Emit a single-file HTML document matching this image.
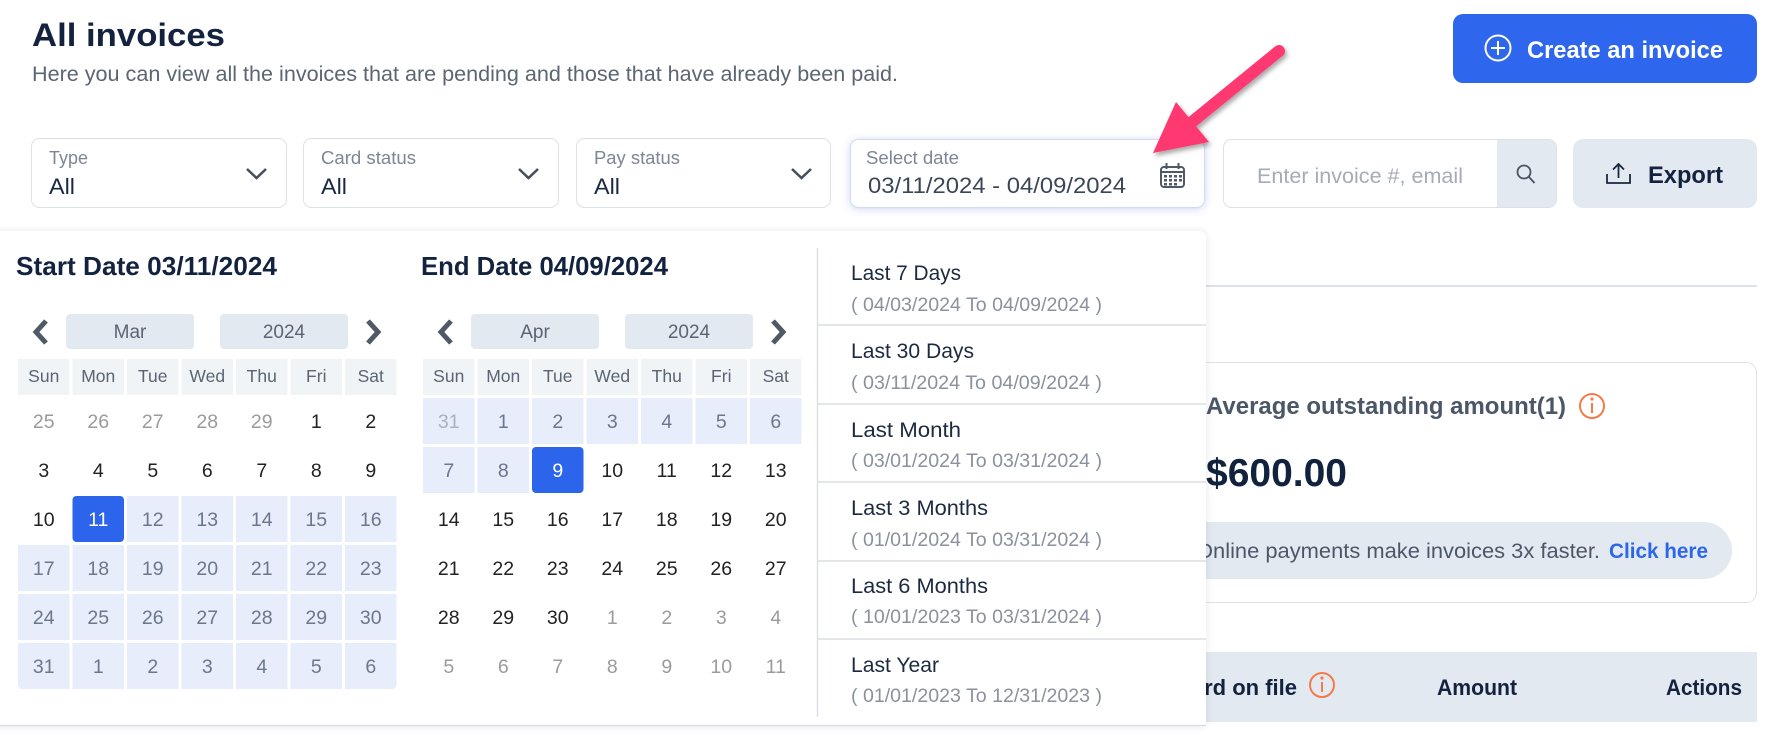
<!DOCTYPE html>
<html><head><meta charset="utf-8"><style>
html,body{margin:0;padding:0;background:#fff;width:1788px;height:744px;overflow:hidden}
svg{display:block}
text{font-family:"Liberation Sans",Arial,sans-serif}
</style></head><body>
<svg width="1788" height="744" viewBox="0 0 1788 744" xmlns="http://www.w3.org/2000/svg">
<defs>
<filter id="pop" x="-5%" y="-10%" width="110%" height="120%"><feDropShadow dx="0" dy="0" stdDeviation="4" flood-color="#000" flood-opacity="0.10"/></filter>
<filter id="glow" x="-10%" y="-30%" width="120%" height="160%"><feDropShadow dx="0" dy="1" stdDeviation="4" flood-color="#4a63e0" flood-opacity="0.28"/></filter>
<filter id="arr" x="-20%" y="-20%" width="140%" height="140%"><feDropShadow dx="2" dy="3" stdDeviation="2.5" flood-color="#000" flood-opacity="0.35"/></filter>
</defs>
<rect x="0" y="0" width="1788" height="744" fill="#fff"/>

<!-- Header -->
<text x="32" y="46" font-size="32" font-weight="bold" fill="#13233f" textLength="193" lengthAdjust="spacingAndGlyphs">All invoices</text>
<text x="32" y="81" font-size="21.5" fill="#5b6573" textLength="866" lengthAdjust="spacingAndGlyphs">Here you can view all the invoices that are pending and those that have already been paid.</text>

<!-- Create button -->
<rect x="1453" y="14" width="304" height="69" rx="10" fill="#2e67ee"/>
<circle cx="1498" cy="48" r="12.5" fill="none" stroke="#fff" stroke-width="2"/>
<line x1="1491" y1="48" x2="1505" y2="48" stroke="#fff" stroke-width="2"/>
<line x1="1498" y1="41" x2="1498" y2="55" stroke="#fff" stroke-width="2"/>
<text x="1527" y="58" font-size="24" font-weight="bold" fill="#fff" textLength="196" lengthAdjust="spacingAndGlyphs">Create an invoice</text>

<!-- Filters -->
<rect x="31.5" y="138.5" width="255" height="69" rx="8" fill="#fff" stroke="#dde1e6"/>
<text x="49" y="164" font-size="18" fill="#7d8696">Type</text>
<text x="49" y="194" font-size="22" fill="#1a2940" textLength="26" lengthAdjust="spacingAndGlyphs">All</text>
<polyline points="247,169 256.5,178 266,169" fill="none" stroke="#454e5c" stroke-width="2.5"/>

<rect x="303.5" y="138.5" width="255" height="69" rx="8" fill="#fff" stroke="#dde1e6"/>
<text x="321" y="164" font-size="18" fill="#7d8696" textLength="95" lengthAdjust="spacingAndGlyphs">Card status</text>
<text x="321" y="194" font-size="22" fill="#1a2940" textLength="26" lengthAdjust="spacingAndGlyphs">All</text>
<polyline points="519,169 528.5,178 538,169" fill="none" stroke="#454e5c" stroke-width="2.5"/>

<rect x="576.5" y="138.5" width="254" height="69" rx="8" fill="#fff" stroke="#dde1e6"/>
<text x="594" y="164" font-size="18" fill="#7d8696" textLength="86" lengthAdjust="spacingAndGlyphs">Pay status</text>
<text x="594" y="194" font-size="22" fill="#1a2940" textLength="26" lengthAdjust="spacingAndGlyphs">All</text>
<polyline points="792,169 801.5,178 811,169" fill="none" stroke="#454e5c" stroke-width="2.5"/>

<!-- Date box -->
<rect x="850.5" y="139.5" width="354" height="68" rx="8" fill="#fff" stroke="#d3daf3" filter="url(#glow)"/>
<text x="866" y="164" font-size="18" fill="#7d8696" textLength="93" lengthAdjust="spacingAndGlyphs">Select date</text>
<text x="868" y="193" font-size="22.5" fill="#3c4656" textLength="258" lengthAdjust="spacingAndGlyphs">03/11/2024 - 04/09/2024</text>
<g fill="none" stroke="#4f5a66" stroke-width="2">
<rect x="1161" y="167" width="23" height="20" rx="3"/>
<line x1="1161" y1="172" x2="1184" y2="172"/>
<line x1="1166.5" y1="163" x2="1166.5" y2="169"/>
<line x1="1178.5" y1="163" x2="1178.5" y2="169"/>
</g>
<g fill="#4f5a66">
<rect x="1164" y="175" width="3" height="2.5"/><rect x="1169" y="175" width="3" height="2.5"/><rect x="1174" y="175" width="3" height="2.5"/><rect x="1179" y="175" width="3" height="2.5"/>
<rect x="1164" y="179" width="3" height="2.5"/><rect x="1169" y="179" width="3" height="2.5"/><rect x="1174" y="179" width="3" height="2.5"/><rect x="1179" y="179" width="3" height="2.5"/>
<rect x="1164" y="183" width="3" height="2.5"/><rect x="1169" y="183" width="3" height="2.5"/><rect x="1174" y="183" width="3" height="2.5"/>
</g>

<!-- Search -->
<rect x="1223.5" y="139.5" width="333" height="68" rx="8" fill="#fff" stroke="#dde1e6"/>
<path d="M1497 140 H1549 Q1556 140 1556 147 V200 Q1556 207 1549 207 H1497 Z" fill="#e3e9f0"/>
<text x="1257" y="183" font-size="21.5" fill="#a5acb5" textLength="206" lengthAdjust="spacingAndGlyphs">Enter invoice #, email</text>
<circle cx="1524" cy="172" r="6.5" fill="none" stroke="#4a5360" stroke-width="1.8"/>
<line x1="1529" y1="177" x2="1534.5" y2="183" stroke="#4a5360" stroke-width="1.8"/>

<!-- Export -->
<rect x="1573" y="139" width="184" height="69" rx="10" fill="#e3e9f0"/>
<g fill="none" stroke="#1a2940" stroke-width="1.8">
<line x1="1618.5" y1="164" x2="1618.5" y2="178"/>
<polyline points="1613,169.5 1618.5,164 1624,169.5"/>
<polyline points="1607,174 1607,183 1630,183 1630,174"/>
</g>
<text x="1648" y="183" font-size="24" font-weight="bold" fill="#13233f" textLength="75" lengthAdjust="spacingAndGlyphs">Export</text>

<!-- Background content (right side) -->
<line x1="900" y1="286" x2="1757" y2="286" stroke="#dde2e8" stroke-width="2"/>
<rect x="1100.5" y="362.5" width="656" height="240" rx="10" fill="#fff" stroke="#dfe3e8"/>
<text x="1206" y="414" font-size="24" font-weight="bold" fill="#4b5766" textLength="360" lengthAdjust="spacingAndGlyphs">Average outstanding amount(1)</text>
<circle cx="1592" cy="406" r="12" fill="none" stroke="#f47a4a" stroke-width="2"/>
<line x1="1592" y1="403" x2="1592" y2="413" stroke="#f47a4a" stroke-width="2"/>
<circle cx="1592" cy="399" r="1.6" fill="#f47a4a"/>
<text x="1206" y="486" font-size="39" font-weight="bold" fill="#10223d" textLength="141" lengthAdjust="spacingAndGlyphs">$600.00</text>
<rect x="1100" y="522" width="632" height="57" rx="28.5" fill="#e3e9f0"/>
<text x="1196" y="558" font-size="21.5" fill="#4b5766" textLength="404" lengthAdjust="spacingAndGlyphs">Online payments make invoices 3x faster.</text>
<text x="1609" y="558" font-size="21" font-weight="bold" fill="#2d66ec" textLength="99" lengthAdjust="spacingAndGlyphs">Click here</text>

<rect x="1100" y="652" width="657" height="70" fill="#e3e9f0"/>
<text x="1297" y="695" font-size="22" font-weight="bold" fill="#13233f" text-anchor="end">Card on file</text>
<circle cx="1322" cy="685" r="12" fill="none" stroke="#f47a4a" stroke-width="2"/>
<line x1="1322" y1="682" x2="1322" y2="692" stroke="#f47a4a" stroke-width="2"/>
<circle cx="1322" cy="678" r="1.6" fill="#f47a4a"/>
<text x="1437" y="695" font-size="22" font-weight="bold" fill="#13233f" textLength="80" lengthAdjust="spacingAndGlyphs">Amount</text>
<text x="1666" y="695" font-size="22" font-weight="bold" fill="#13233f" textLength="76" lengthAdjust="spacingAndGlyphs">Actions</text>

<!-- Popup -->
<path d="M-10 231 H1198 Q1206 231 1206 239 V726 H-10 Z" fill="#fff" filter="url(#pop)"/>
<line x1="0" y1="725.5" x2="1206" y2="725.5" stroke="#dcdfe3" stroke-width="1.5"/>

<!-- Start calendar -->
<text x="16" y="275" font-size="26" font-weight="bold" fill="#13233f" textLength="261" lengthAdjust="spacingAndGlyphs">Start Date 03/11/2024</text>
<polyline points="46,321 36,332 46,343" fill="none" stroke="#4f5a66" stroke-width="5"/>
<rect x="66" y="314" width="128" height="35" rx="4" fill="#e3e9f0"/>
<rect x="220" y="314" width="128" height="35" rx="4" fill="#e3e9f0"/>
<text x="130" y="338" font-size="19" fill="#5a6573" text-anchor="middle">Mar</text>
<text x="284" y="338" font-size="19" fill="#5a6573" text-anchor="middle">2024</text>
<polyline points="368,321 378,332 368,343" fill="none" stroke="#4f5a66" stroke-width="5"/>

<g fill="#f1f4f7">
<rect x="18" y="359" width="51.5" height="36"/><rect x="72.5" y="359" width="51.5" height="36"/><rect x="127" y="359" width="51.5" height="36"/><rect x="181.5" y="359" width="51.5" height="36"/><rect x="236" y="359" width="51.5" height="36"/><rect x="290.5" y="359" width="51.5" height="36"/><rect x="345" y="359" width="51.5" height="36"/>
</g>
<g font-size="17.5" fill="#5a6473" text-anchor="middle">
<text x="43.75" y="382">Sun</text><text x="98.25" y="382">Mon</text><text x="152.75" y="382">Tue</text><text x="207.25" y="382">Wed</text><text x="261.75" y="382">Thu</text><text x="316.25" y="382">Fri</text><text x="370.75" y="382">Sat</text>
</g>
<!-- range bg start -->
<g fill="#e7edfb">
<rect x="127" y="496" width="51.5" height="46"/><rect x="181.5" y="496" width="51.5" height="46"/><rect x="236" y="496" width="51.5" height="46"/><rect x="290.5" y="496" width="51.5" height="46"/><rect x="345" y="496" width="51.5" height="46"/>
<rect x="18" y="545" width="51.5" height="46"/><rect x="72.5" y="545" width="51.5" height="46"/><rect x="127" y="545" width="51.5" height="46"/><rect x="181.5" y="545" width="51.5" height="46"/><rect x="236" y="545" width="51.5" height="46"/><rect x="290.5" y="545" width="51.5" height="46"/><rect x="345" y="545" width="51.5" height="46"/>
<rect x="18" y="594" width="51.5" height="46"/><rect x="72.5" y="594" width="51.5" height="46"/><rect x="127" y="594" width="51.5" height="46"/><rect x="181.5" y="594" width="51.5" height="46"/><rect x="236" y="594" width="51.5" height="46"/><rect x="290.5" y="594" width="51.5" height="46"/><rect x="345" y="594" width="51.5" height="46"/>
<rect x="18" y="643" width="51.5" height="46" rx="4"/><rect x="24" y="643" width="45.5" height="46"/><rect x="18" y="643" width="51.5" height="30"/>
<rect x="72.5" y="643" width="51.5" height="46"/><rect x="127" y="643" width="51.5" height="46"/><rect x="181.5" y="643" width="51.5" height="46"/><rect x="236" y="643" width="51.5" height="46"/><rect x="290.5" y="643" width="51.5" height="46"/>
<rect x="345" y="643" width="51.5" height="46" rx="4"/><rect x="345" y="643" width="45" height="46"/><rect x="345" y="643" width="51.5" height="30"/>
</g>
<rect x="72.5" y="496" width="51.5" height="46" rx="4" fill="#2c65ec"/>

<g font-size="19.5" text-anchor="middle">
<g fill="#9b9b9b"><text x="43.75" y="428">25</text><text x="98.25" y="428">26</text><text x="152.75" y="428">27</text><text x="207.25" y="428">28</text><text x="261.75" y="428">29</text></g>
<g fill="#222"><text x="316.25" y="428">1</text><text x="370.75" y="428">2</text>
<text x="43.75" y="477">3</text><text x="98.25" y="477">4</text><text x="152.75" y="477">5</text><text x="207.25" y="477">6</text><text x="261.75" y="477">7</text><text x="316.25" y="477">8</text><text x="370.75" y="477">9</text>
<text x="43.75" y="526">10</text></g>
<text x="98.25" y="526" fill="#fff">11</text>
<g fill="#6b778a">
<text x="152.75" y="526">12</text><text x="207.25" y="526">13</text><text x="261.75" y="526">14</text><text x="316.25" y="526">15</text><text x="370.75" y="526">16</text>
<text x="43.75" y="575">17</text><text x="98.25" y="575">18</text><text x="152.75" y="575">19</text><text x="207.25" y="575">20</text><text x="261.75" y="575">21</text><text x="316.25" y="575">22</text><text x="370.75" y="575">23</text>
<text x="43.75" y="624">24</text><text x="98.25" y="624">25</text><text x="152.75" y="624">26</text><text x="207.25" y="624">27</text><text x="261.75" y="624">28</text><text x="316.25" y="624">29</text><text x="370.75" y="624">30</text>
<text x="43.75" y="673">31</text><text x="98.25" y="673">1</text><text x="152.75" y="673">2</text><text x="207.25" y="673">3</text><text x="261.75" y="673">4</text><text x="316.25" y="673">5</text><text x="370.75" y="673">6</text>
</g>
</g>

<!-- End calendar -->
<text x="421" y="275" font-size="26" font-weight="bold" fill="#13233f" textLength="247" lengthAdjust="spacingAndGlyphs">End Date 04/09/2024</text>
<polyline points="451,321 441,332 451,343" fill="none" stroke="#4f5a66" stroke-width="5"/>
<rect x="471" y="314" width="128" height="35" rx="4" fill="#e3e9f0"/>
<rect x="625" y="314" width="128" height="35" rx="4" fill="#e3e9f0"/>
<text x="535" y="338" font-size="19" fill="#5a6573" text-anchor="middle">Apr</text>
<text x="689" y="338" font-size="19" fill="#5a6573" text-anchor="middle">2024</text>
<polyline points="773,321 783,332 773,343" fill="none" stroke="#4f5a66" stroke-width="5"/>

<g fill="#f1f4f7">
<rect x="423" y="359" width="51.5" height="36"/><rect x="477.5" y="359" width="51.5" height="36"/><rect x="532" y="359" width="51.5" height="36"/><rect x="586.5" y="359" width="51.5" height="36"/><rect x="641" y="359" width="51.5" height="36"/><rect x="695.5" y="359" width="51.5" height="36"/><rect x="750" y="359" width="51.5" height="36"/>
</g>
<g font-size="17.5" fill="#5a6473" text-anchor="middle">
<text x="448.75" y="382">Sun</text><text x="503.25" y="382">Mon</text><text x="557.75" y="382">Tue</text><text x="612.25" y="382">Wed</text><text x="666.75" y="382">Thu</text><text x="721.25" y="382">Fri</text><text x="775.75" y="382">Sat</text>
</g>
<g fill="#e7edfb">
<rect x="423" y="398" width="51.5" height="46"/><rect x="477.5" y="398" width="51.5" height="46"/><rect x="532" y="398" width="51.5" height="46"/><rect x="586.5" y="398" width="51.5" height="46"/><rect x="641" y="398" width="51.5" height="46"/><rect x="695.5" y="398" width="51.5" height="46"/><rect x="750" y="398" width="51.5" height="46"/>
<rect x="423" y="447" width="51.5" height="46"/><rect x="477.5" y="447" width="51.5" height="46"/>
</g>
<rect x="532" y="447" width="51.5" height="46" rx="4" fill="#2c65ec"/>

<g font-size="19.5" text-anchor="middle">
<text x="448.75" y="428" fill="#aab2bf">31</text>
<g fill="#6b778a"><text x="503.25" y="428">1</text><text x="557.75" y="428">2</text><text x="612.25" y="428">3</text><text x="666.75" y="428">4</text><text x="721.25" y="428">5</text><text x="775.75" y="428">6</text>
<text x="448.75" y="477">7</text><text x="503.25" y="477">8</text></g>
<text x="557.75" y="477" fill="#fff">9</text>
<g fill="#222"><text x="612.25" y="477">10</text><text x="666.75" y="477">11</text><text x="721.25" y="477">12</text><text x="775.75" y="477">13</text>
<text x="448.75" y="526">14</text><text x="503.25" y="526">15</text><text x="557.75" y="526">16</text><text x="612.25" y="526">17</text><text x="666.75" y="526">18</text><text x="721.25" y="526">19</text><text x="775.75" y="526">20</text>
<text x="448.75" y="575">21</text><text x="503.25" y="575">22</text><text x="557.75" y="575">23</text><text x="612.25" y="575">24</text><text x="666.75" y="575">25</text><text x="721.25" y="575">26</text><text x="775.75" y="575">27</text>
<text x="448.75" y="624">28</text><text x="503.25" y="624">29</text><text x="557.75" y="624">30</text></g>
<g fill="#9b9b9b"><text x="612.25" y="624">1</text><text x="666.75" y="624">2</text><text x="721.25" y="624">3</text><text x="775.75" y="624">4</text>
<text x="448.75" y="673">5</text><text x="503.25" y="673">6</text><text x="557.75" y="673">7</text><text x="612.25" y="673">8</text><text x="666.75" y="673">9</text><text x="721.25" y="673">10</text><text x="775.75" y="673">11</text></g>
</g>

<!-- Presets -->
<line x1="817.5" y1="248" x2="817.5" y2="717" stroke="#dcdfe3" stroke-width="1.5"/>
<g stroke="#dcdfe3" stroke-width="1.5">
<line x1="817" y1="325" x2="1206" y2="325"/><line x1="817" y1="404" x2="1206" y2="404"/><line x1="817" y1="482" x2="1206" y2="482"/><line x1="817" y1="561" x2="1206" y2="561"/><line x1="817" y1="639" x2="1206" y2="639"/>
</g>
<g font-size="21" fill="#1c2a40">
<text x="851" y="280" textLength="110" lengthAdjust="spacingAndGlyphs">Last 7 Days</text>
<text x="851" y="358" textLength="123" lengthAdjust="spacingAndGlyphs">Last 30 Days</text>
<text x="851" y="437" textLength="110" lengthAdjust="spacingAndGlyphs">Last Month</text>
<text x="851" y="515" textLength="137" lengthAdjust="spacingAndGlyphs">Last 3 Months</text>
<text x="851" y="593" textLength="137" lengthAdjust="spacingAndGlyphs">Last 6 Months</text>
<text x="851" y="672" textLength="88" lengthAdjust="spacingAndGlyphs">Last Year</text>
</g>
<g font-size="19" fill="#8a929d">
<text x="851" y="311" textLength="251" lengthAdjust="spacingAndGlyphs">( 04/03/2024 To 04/09/2024 )</text>
<text x="851" y="389" textLength="251" lengthAdjust="spacingAndGlyphs">( 03/11/2024 To 04/09/2024 )</text>
<text x="851" y="467" textLength="251" lengthAdjust="spacingAndGlyphs">( 03/01/2024 To 03/31/2024 )</text>
<text x="851" y="546" textLength="251" lengthAdjust="spacingAndGlyphs">( 01/01/2024 To 03/31/2024 )</text>
<text x="851" y="623" textLength="251" lengthAdjust="spacingAndGlyphs">( 10/01/2023 To 03/31/2024 )</text>
<text x="851" y="702" textLength="251" lengthAdjust="spacingAndGlyphs">( 01/01/2023 To 12/31/2023 )</text>
</g>

<!-- Arrow -->
<g filter="url(#arr)">
<line x1="1279" y1="51" x2="1192" y2="122" stroke="#fe3870" stroke-width="12" stroke-linecap="round"/>
<polygon points="1153,153 1176,102 1209,142" fill="#fe3870"/>
</g>
</svg>
</body></html>
